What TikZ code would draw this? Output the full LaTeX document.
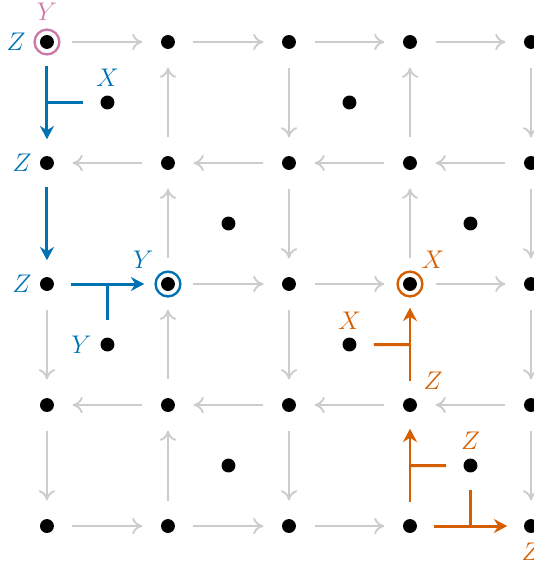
\documentclass[tikz,border=0pt]{standalone}
\usepackage{amsmath,amssymb}
\usepackage{xcolor}
\usepackage{tikz}
\usetikzlibrary{arrows.meta}
\definecolor{kblue}{RGB}{0,114,178}
\definecolor{korange}{RGB}{213,94,0}
\definecolor{kpink}{RGB}{204,121,167}
\begin{document}
\begin{tikzpicture}[x=2cm,y=-2cm,>=Stealth,font=\large,
dot/.style={circle,fill=black,inner sep=0pt,minimum size=0.23cm},
gedge/.style={-{To[length=1.7mm,width=2.7mm]},black!20,line width=0.9pt,shorten <=0.3cm,shorten >=0.3cm},
cedge/.style={-{Stealth[length=2.2mm,width=2.3mm]},line width=1.4pt,shorten <=0.27cm,shorten >=0.27cm},
ctick/.style={line width=1.4pt,shorten >=0.28cm},
ring/.style={circle,draw,line width=1.1pt,inner sep=0pt,minimum size=0.41cm}]
\useasboundingbox (-0.388,-0.347) rectangle (4.017,4.322);
\foreach \i in {0,...,4}
  \foreach \j in {0,...,4}
    \node[dot] (v-\i-\j) at (\i,\j) {};
\foreach \i/\j in {0/0,2/0,1/1,3/1,0/2,2/2,1/3,3/3}
  \node[dot] (f-\i-\j) at (\i+0.5,\j+0.5) {};
\foreach \i/\j [evaluate=\i as \k using int(\i+1)] in {0/0,1/0,2/0,3/0,1/2,2/2,3/2,0/4,1/4,2/4}
  \draw[gedge] (v-\i-\j) -- (v-\k-\j);
\foreach \i/\j [evaluate=\i as \k using int(\i+1)] in {0/1,1/1,2/1,3/1,0/3,1/3,2/3,3/3}
  \draw[gedge] (v-\k-\j) -- (v-\i-\j);
\foreach \i/\j [evaluate=\j as \k using int(\j+1)] in {0/2,0/3,2/0,2/1,2/2,2/3,4/0,4/1,4/2,4/3}
  \draw[gedge] (v-\i-\j) -- (v-\i-\k);
\foreach \i/\j [evaluate=\j as \k using int(\j+1)] in {1/0,1/1,1/2,1/3,3/0,3/1}
  \draw[gedge] (v-\i-\k) -- (v-\i-\j);
\draw[cedge,kblue] (v-0-0) -- coordinate (m-a) (v-0-1);
\draw[cedge,kblue] (v-0-1) -- (v-0-2);
\draw[cedge,kblue] (v-0-2) -- coordinate (m-b) (v-1-2);
\draw[ctick,kblue] (m-a) -- (f-0-0);
\draw[ctick,kblue] (m-b) -- (f-0-2);
\draw[cedge,korange] (v-3-3) -- coordinate (m-c) (v-3-2);
\draw[cedge,korange] (v-3-4) -- coordinate (m-d) (v-3-3);
\draw[cedge,korange] (v-3-4) -- coordinate (m-e) (v-4-4);
\draw[ctick,korange] (m-c) -- (f-2-2);
\draw[ctick,korange] (m-d) -- (f-3-3);
\draw[ctick,korange] (m-e) -- (f-3-3);
\node[ring,draw=kpink] (r-0-0) at (v-0-0) {};
\node[ring,draw=kblue] (r-1-2) at (v-1-2) {};
\node[ring,draw=korange] (r-3-2) at (v-3-2) {};
\node[text=kpink] (l-y0) at ([yshift=0.5cm]v-0-0) {$Y$};
\node[text=kblue] (l-z0) at ([xshift=-0.51cm]v-0-0) {$Z$};
\node[text=kblue] (l-z1) at ([xshift=-0.41cm]v-0-1) {$Z$};
\node[text=kblue] (l-z2) at ([xshift=-0.41cm]v-0-2) {$Z$};
\node[text=kblue] (l-xa) at ([yshift=0.41cm]f-0-0) {$X$};
\node[text=kblue] (l-yb) at ([xshift=-0.41cm,yshift=0.4cm]v-1-2) {$Y$};
\node[text=kblue] (l-yc) at ([xshift=-0.43cm]f-0-2) {$Y$};
\node[text=korange] (l-xd) at ([xshift=0.38cm,yshift=0.4cm]v-3-2) {$X$};
\node[text=korange] (l-xe) at ([yshift=0.4cm]f-2-2) {$X$};
\node[text=korange] (l-zf) at ([xshift=0.38cm,yshift=0.4cm]v-3-3) {$Z$};
\node[text=korange] (l-zg) at ([yshift=0.41cm]f-3-3) {$Z$};
\node[text=korange] (l-zh) at ([yshift=-0.42cm]v-4-4) {$Z$};
\end{tikzpicture}
\end{document}
